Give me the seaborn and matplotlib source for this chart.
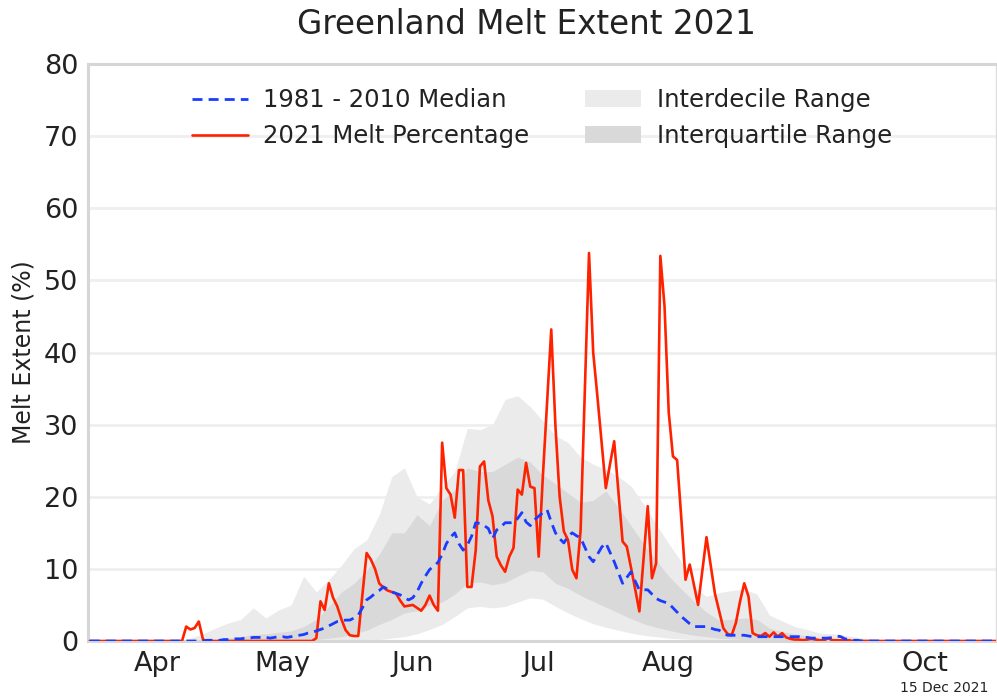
import matplotlib
matplotlib.use("Agg")
import matplotlib.pyplot as plt
import seaborn as sns
import pandas as pd

# day of year for the daily series (30 Mar .. 1 Nov)
days = list(range(89, 306))

# 2021 melt percentage, one value per day
melt_2021 = [
    0, 0, 0, 0, 0, 0, 0, 0, 0, 0,
    0, 0, 0, 0, 0, 0, 0, 0, 0, 0,
    0, 0, 0, 2.0, 1.6, 1.8, 2.7, 0.2, 0, 0,
    0, 0, 0, 0, 0, 0, 0, 0, 0, 0,
    0, 0, 0, 0, 0, 0, 0, 0, 0, 0,
    0, 0, 0, 0, 0.4, 5.5, 4.3, 8.0, 6.0, 4.8,
    3.0, 1.5, 0.8, 0.7, 0.7, 6.5, 12.2, 11.3, 10.0, 8.0,
    7.4, 7.0, 6.8, 6.6, 5.6, 4.8, 4.9, 5.0, 4.6, 4.2,
    5.0, 6.3, 5.0, 4.2, 27.5, 21.2, 20.3, 17.1, 23.7, 23.7,
    7.5, 7.5, 12.6, 24.2, 24.9, 19.5, 17.3, 11.7, 10.5, 9.6,
    11.7, 12.9, 21.0, 20.3, 24.7, 21.4, 21.2, 11.7, 22.8, 33.0,
    43.2, 29.8, 20.0, 15.2, 14.0, 9.9, 8.7, 15.4, 34.6, 53.8,
    40.0, 33.9, 27.5, 21.2, 24.5, 27.7, 20.8, 13.8, 13.1, 10.2,
    7.2, 4.1, 11.4, 18.7, 8.7, 10.8, 53.4, 46.4, 31.7, 25.6,
    25.1, 17.0, 8.5, 10.6, 7.8, 5.0, 9.7, 14.4, 10.5, 6.6,
    4.2, 1.8, 1.0, 0.8, 2.5, 5.5, 8.0, 6.2, 1.1, 0.8,
    0.7, 1.1, 0.6, 1.2, 0.6, 1.1, 0.5, 0.3, 0.2, 0.2,
    0.1, 0.2, 0.3, 0.2, 0.1, 0.1, 0.4, 0.1, 0.1, 0.1,
    0.1, 0.1, 0, 0, 0, 0, 0, 0, 0, 0,
    0, 0, 0, 0, 0, 0, 0, 0, 0, 0,
    0, 0, 0, 0, 0, 0, 0, 0, 0, 0,
    0, 0, 0, 0, 0, 0, 0,
]

# 1981-2010 median, one value per day
median_8110 = [
    0, 0, 0, 0, 0, 0, 0, 0, 0, 0,
    0, 0, 0, 0, 0, 0, 0, 0, 0, 0,
    0, 0, 0, 0, 0, 0, 0, 0, 0.1, 0.1,
    0.1, 0.1, 0.2, 0.2, 0.3, 0.3, 0.3, 0.4, 0.4, 0.5,
    0.5, 0.5, 0.5, 0.4, 0.5, 0.6, 0.6, 0.5, 0.6, 0.7,
    0.8, 0.9, 1.1, 1.2, 1.4, 1.6, 1.8, 2.1, 2.4, 2.7,
    2.8, 2.9, 2.9, 3.2, 3.6, 4.6, 5.7, 6.1, 6.6, 7.0,
    7.5, 7.2, 6.8, 6.6, 6.4, 6.0, 5.7, 6.0, 6.8, 8.0,
    9.0, 9.9, 10.4, 10.9, 12.0, 13.5, 14.4, 15.0, 13.5, 12.6,
    13.3, 14.5, 16.4, 16.3, 16.0, 15.6, 14.2, 15.4, 15.8, 16.4,
    16.4, 16.4, 17.0, 17.8, 16.5, 16.0, 16.8, 17.3, 17.8, 18.2,
    16.5, 15.0, 14.2, 13.6, 14.5, 15.0, 14.6, 14.3, 13.0, 11.7,
    11.0, 12.0, 13.0, 13.6, 12.3, 11.0, 9.5, 8.0, 8.8, 9.6,
    8.3, 7.1, 7.1, 7.1, 6.5, 5.9, 5.6, 5.4, 5.2, 4.6,
    4.0, 3.4, 2.9, 2.4, 2.0, 2.0, 2.0, 2.0, 1.8, 1.6,
    1.5, 1.1, 0.8, 0.8, 0.8, 0.8, 0.8, 0.7, 0.6, 0.6,
    0.6, 0.6, 0.6, 0.6, 0.6, 0.6, 0.6, 0.6, 0.6, 0.6,
    0.5, 0.5, 0.4, 0.4, 0.4, 0.4, 0.4, 0.5, 0.7, 0.6,
    0.3, 0.2, 0.1, 0.1, 0, 0, 0, 0, 0, 0,
    0, 0, 0, 0, 0, 0, 0, 0, 0, 0,
    0, 0, 0, 0, 0, 0, 0, 0, 0, 0,
    0, 0, 0, 0, 0, 0, 0,
]

# percentile bands, every third day
band_days = list(range(89, 306, 3))
p90 = [
    0, 0, 0, 0, 0, 0, 0, 0, 0.4, 1.0,
    1.8, 2.5, 3.0, 4.6, 3.2, 4.3, 5.0, 9.0, 6.8, 8.5,
    10.5, 12.8, 14.0, 17.5, 22.8, 24.0, 20.0, 19.0, 21.4, 23.5,
    29.5, 29.3, 30.0, 33.5, 34.0, 32.5, 30.5, 28.5, 27.5, 25.5,
    24.5, 23.8, 22.8, 21.5, 19.0, 16.2, 13.5, 11.0, 7.5, 6.2,
    6.7, 7.0, 7.2, 6.5, 3.6, 2.8, 2.0, 1.6, 1.1, 1.0,
    0.8, 0.5, 0.3, 0.1, 0, 0, 0, 0, 0, 0,
    0, 0, 0,
]
p75 = [
    0, 0, 0, 0, 0, 0, 0, 0, 0, 0.1,
    0.2, 0.4, 0.6, 0.9, 1.0, 1.2, 1.4, 2.0, 3.0, 4.8,
    6.8, 8.0, 9.8, 12.0, 15.0, 15.0, 17.5, 16.0, 19.5, 21.0,
    24.0, 23.5, 23.5, 24.5, 25.5, 24.8, 23.0, 21.8, 20.5, 19.2,
    19.5, 20.8, 18.5, 16.0, 13.5, 11.2, 9.0, 7.2, 5.5, 4.0,
    2.9, 3.0, 3.2, 3.0, 1.8, 1.3, 1.0, 0.7, 0.5, 0.4,
    0.3, 0.2, 0.1, 0, 0, 0, 0, 0, 0, 0,
    0, 0, 0,
]
p25 = [
    0, 0, 0, 0, 0, 0, 0, 0, 0, 0,
    0, 0, 0, 0, 0, 0, 0, 0.1, 0.2, 0.4,
    0.6, 1.0, 1.5, 2.3, 3.0, 3.9, 4.2, 5.0, 5.4, 6.5,
    8.0, 8.2, 7.8, 8.1, 9.0, 9.8, 9.6, 8.0, 7.3, 6.3,
    5.5, 4.7, 3.9, 3.1, 2.4, 1.9, 1.5, 1.1, 0.8, 0.6,
    0.4, 0.3, 0.2, 0.1, 0, 0, 0, 0, 0, 0,
    0, 0, 0, 0, 0, 0, 0, 0, 0, 0,
    0, 0, 0,
]
p10 = [
    0, 0, 0, 0, 0, 0, 0, 0, 0, 0,
    0, 0, 0, 0, 0, 0, 0, 0, 0, 0,
    0, 0, 0, 0.2, 0.4, 0.6, 1.0, 1.6, 2.3, 3.4,
    4.6, 4.8, 4.6, 4.8, 5.4, 6.0, 5.8, 4.8, 3.9, 3.1,
    2.4, 1.9, 1.5, 1.1, 0.8, 0.6, 0.4, 0.3, 0.2, 0.1,
    0, 0, 0, 0, 0, 0, 0, 0, 0, 0,
    0, 0, 0, 0, 0, 0, 0, 0, 0, 0,
    0, 0, 0,
]

month_labels = ["Apr", "May", "Jun", "Jul", "Aug", "Sep", "Oct"]
month_mid = [105, 135, 166, 196, 227, 258, 288]
month_start = [91, 121, 152, 182, 213, 244, 274, 305]

daily = pd.DataFrame({"day": days, "melt": melt_2021, "median": median_8110})
bands = pd.DataFrame({"day": band_days, "p10": p10, "p25": p25, "p75": p75, "p90": p90})

sns.set_style("white")
plt.rcParams["font.family"] = ["DejaVu Sans"]

fig = plt.figure(figsize=(9.97, 6.96), dpi=100)
ax = fig.add_axes([0.0883, 0.079, 0.9107, 0.829])

ax.fill_between(bands["day"], bands["p10"], bands["p90"], color="#ebebeb",
                lw=0, label="Interdecile Range", zorder=1)
ax.fill_between(bands["day"], bands["p25"], bands["p75"], color="#d9d9d9",
                lw=0, label="Interquartile Range", zorder=2)

sns.lineplot(data=daily, x="day", y="melt", ax=ax, color="#ff2200",
             linewidth=1.9, label="2021 Melt Percentage", zorder=3)
sns.lineplot(data=daily, x="day", y="median", ax=ax, color="#1a3cff",
             linewidth=2.0, linestyle=(0, (3.6, 2.2)), label="1981 - 2010 Median",
             zorder=4)

ax.set_xlim(88.6, 305.0)
ax.set_ylim(0, 80)
ax.set_yticks(range(0, 81, 10))
ax.yaxis.grid(True, color="#efefef", linewidth=2.0, zorder=0)
ax.set_axisbelow(True)

ax.set_xticks(month_mid)
ax.set_xticklabels(month_labels)
ax.set_xticks(month_start, minor=True)
ax.tick_params(axis="x", which="major", length=0, labelsize=19.5, pad=7, colors="#222222")
ax.tick_params(axis="x", which="minor", length=3, width=1, color="#bbbbbb")
ax.tick_params(axis="y", length=0, labelsize=19.5, pad=7, colors="#222222")
ax.set_xlabel("")
ax.set_ylabel("Melt Extent (%)", fontsize=17, color="#222222", labelpad=6)

for side in ["left", "bottom", "top"]:
    ax.spines[side].set_color("#d6d6d6")
    ax.spines[side].set_linewidth(2.2)
ax.spines["right"].set_color("#dddddd")
ax.spines["right"].set_linewidth(1.0)

handles, labels = ax.get_legend_handles_labels()
order = ["1981 - 2010 Median", "2021 Melt Percentage", "Interdecile Range", "Interquartile Range"]
h = [handles[labels.index(k)] for k in order]
ax.legend(h, order, ncol=2, loc="upper center", frameon=False, fontsize=17.5,
          handlelength=2.3, handletextpad=0.65, columnspacing=2.3,
          borderaxespad=0.6, labelspacing=0.5, labelcolor="#222222")

fig.text(0.528, 0.965, "Greenland Melt Extent 2021", ha="center", va="center",
         fontsize=23.5, color="#222222")
fig.text(0.947, 0.012, "15 Dec 2021", ha="center", va="center", fontsize=10,
         color="#222222")

fig.savefig("out.png", dpi=100)
